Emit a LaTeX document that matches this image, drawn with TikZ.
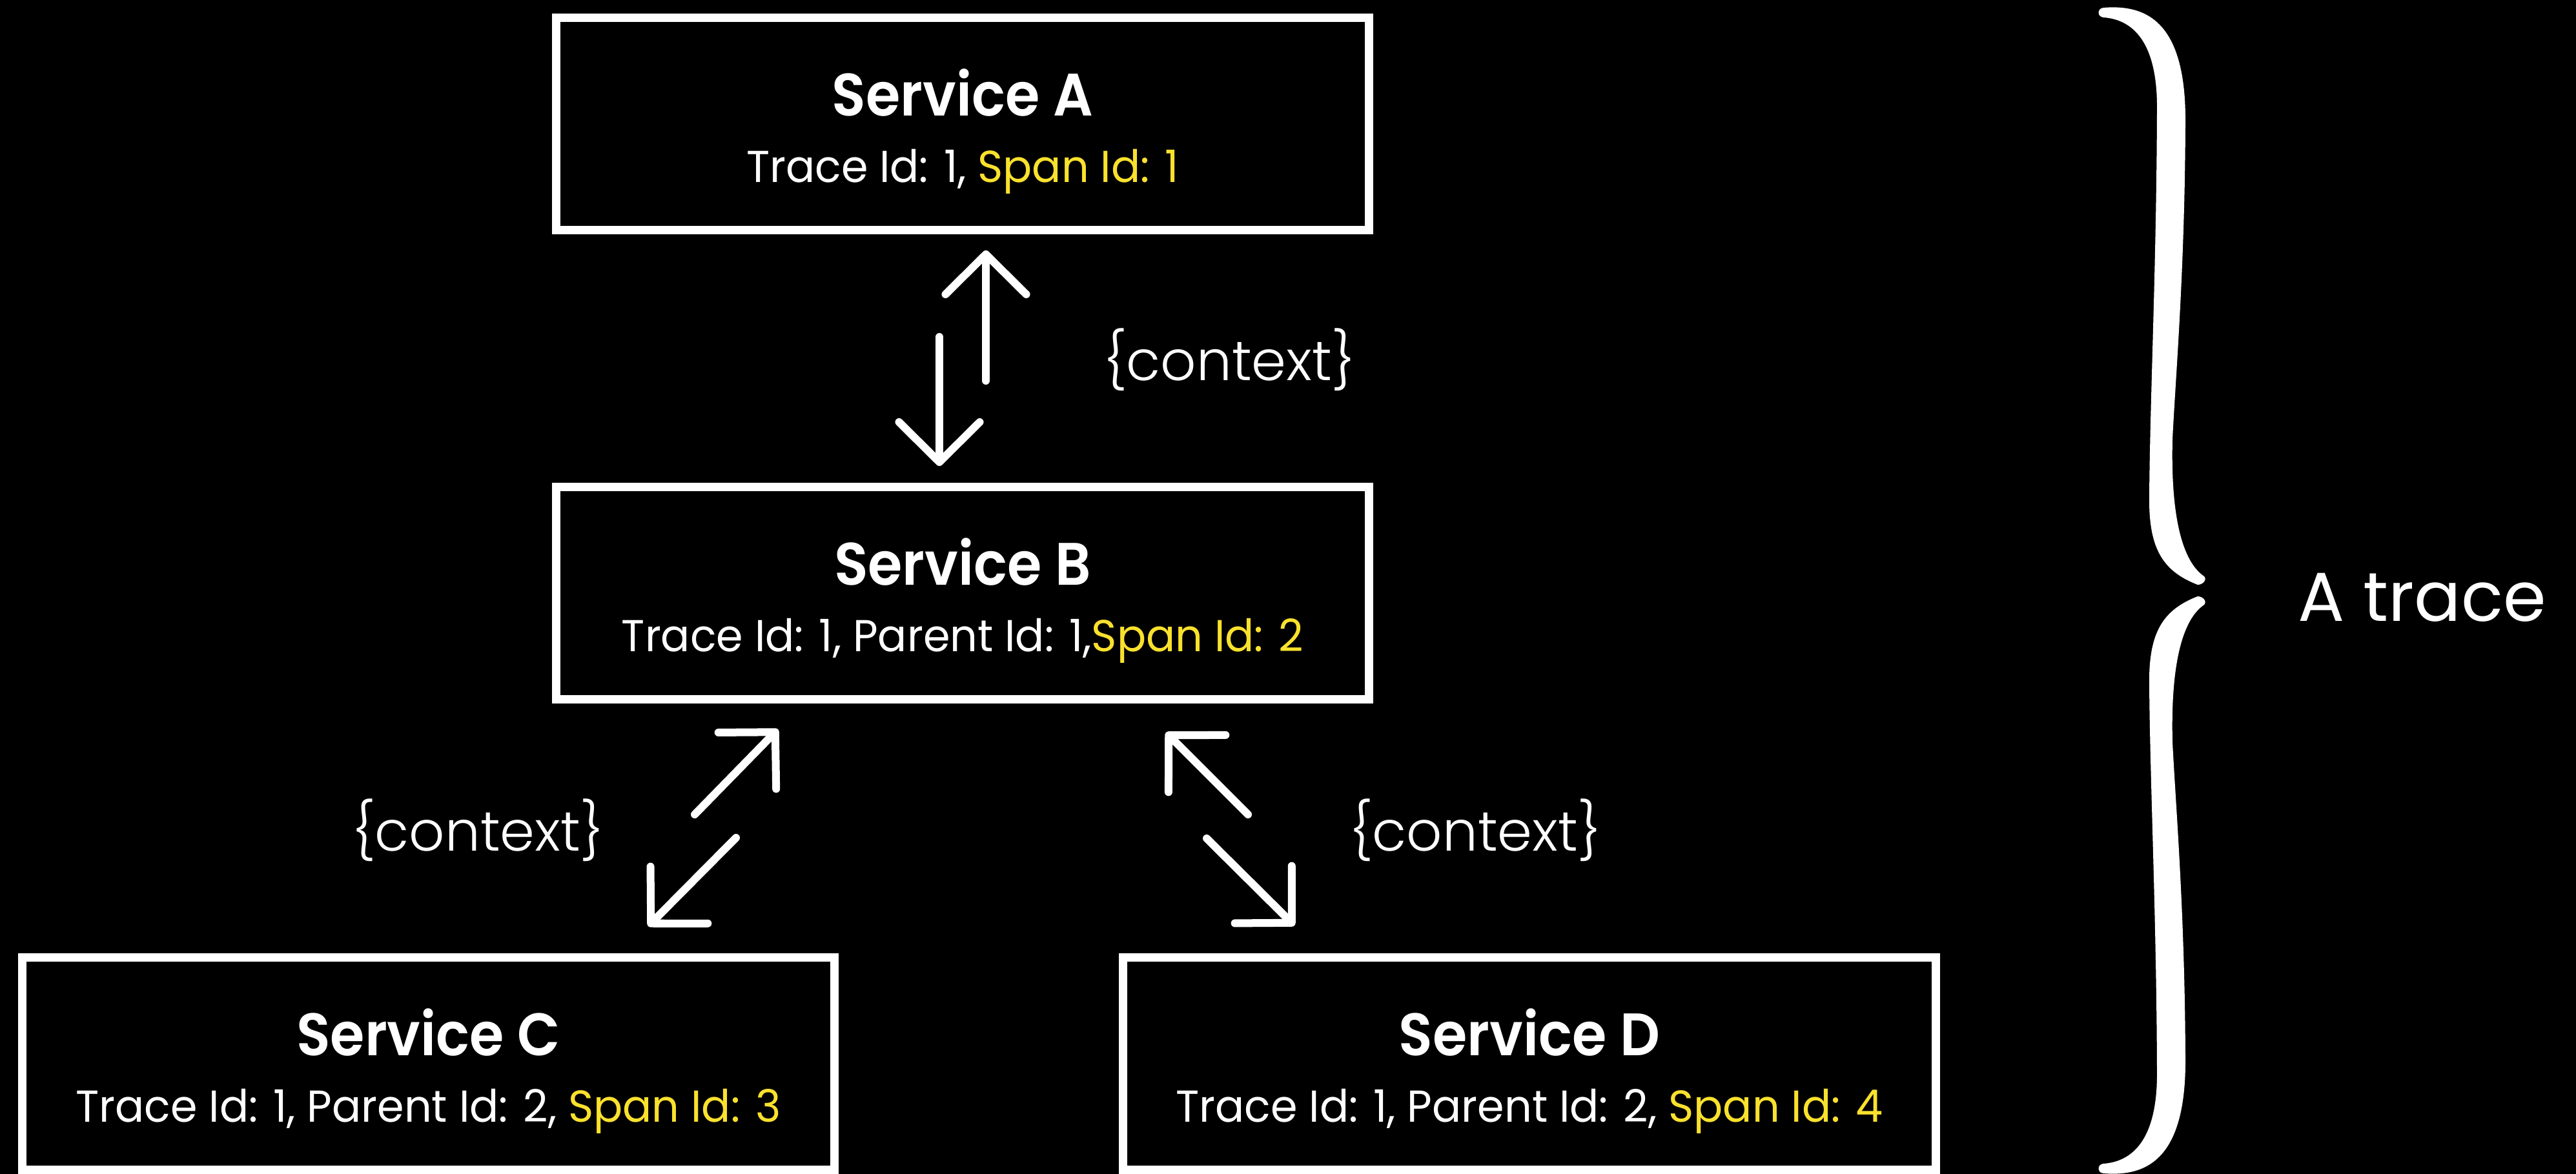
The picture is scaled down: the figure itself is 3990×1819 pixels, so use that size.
\documentclass[tikz,border=0pt]{standalone}
\usepackage{fontspec}
\setmainfont{Poppins}
\newfontfamily\titlefont{Poppins SemiBold}[FakeStretch=0.93]
\newfontfamily\subfont{Poppins}[FakeStretch=0.965]
\newfontfamily\ctxfont{Poppins Light}
\usetikzlibrary{arrows.meta,calc}
\definecolor{spanyellow}{RGB}{250,225,45}
\begin{document}
\begin{tikzpicture}[x=0.01cm, y=-0.01cm,
  box/.style={draw=white, line width=0.13cm, minimum width=12.58cm, minimum height=3.28cm, inner sep=0pt, outer sep=0pt},
  titletext/.style={text=white, inner sep=0pt, anchor=base, font=\titlefont\fontsize{26.4pt}{30pt}\selectfont},
  subtext/.style={text=white, inner sep=0pt, anchor=base, font=\subfont\fontsize{19.7pt}{24pt}\selectfont},
  ctx/.style={text=white, inner sep=0pt, anchor=base, font=\ctxfont\fontsize{24.6pt}{28pt}\selectfont},
  flow/.style={draw=white, line width=0.12cm, line cap=round, -{Straight Barb[round, length=0.62cm, width=1.25cm]}}
]
\fill[black] (0,0) rectangle (3990,1819);
\useasboundingbox (0,0) rectangle (3990,1819);

% boxes
\node[box] (A) at (1491,192) {};
\node[box] (B) at (1491,919) {};
\node[box] (C) at (663.5,1648) {};
\node[box] (D) at (2369,1648) {};

% texts
\node[titletext] (tA) at ($(A.north)+(0,152)$) {Service A};
\node[subtext] (sA) at ($(A.north)+(0,255)$) {Trace Id: 1, \textcolor{spanyellow}{Span Id: 1}};
\node[titletext] (tB) at ($(B.north)+(0,152)$) {Service B};
\node[subtext] (sB) at ($(B.north)+(0,255)$) {Trace Id: 1, Parent Id: 1,\textcolor{spanyellow}{Span Id: 2}};
\node[titletext] (tC) at ($(C.north)+(0,152)$) {Service C};
\node[subtext] (sC) at ($(C.north)+(0,255)$) {Trace Id: 1, Parent Id: 2, \textcolor{spanyellow}{Span Id: 3}};
\node[titletext] (tD) at ($(D.north)+(0,152)$) {Service D};
\node[subtext] (sD) at ($(D.north)+(0,255)$) {Trace Id: 1, Parent Id: 2, \textcolor{spanyellow}{Span Id: 4}};

% arrow end points
\coordinate (abU1) at (1527,590);
\coordinate (abU2) at (1527,388);
\coordinate (abD1) at (1455,522);
\coordinate (abD2) at (1455,722);
\coordinate (bcU1) at (1076,1262);
\coordinate (bcU2) at (1205,1130);
\coordinate (bcD1) at (1140,1298);
\coordinate (bcD2) at (1004,1435);
\coordinate (bdU1) at (1933,1262);
\coordinate (bdU2) at (1806,1135);
\coordinate (bdD1) at (1869,1299);
\coordinate (bdD2) at (2005,1434);

\draw[flow] (abU1) -- (abU2);
\draw[flow] (abD1) -- (abD2);
\draw[flow] (bcU1) -- (bcU2);
\draw[flow] (bcD1) -- (bcD2);
\draw[flow] (bdU1) -- (bdU2);
\draw[flow] (bdD1) -- (bdD2);

% labels
\node[ctx] (cAB) at (1904,590) {\{context\}};
\node[ctx] (cBC) at (740,1318) {\{context\}};
\node[ctx] (cBD) at (2285,1318) {\{context\}};

% brace
\def\bracehalf{(3258,12) .. controls (3330,6) and (3386,40) .. (3385,190)
 .. controls (3384,420) and (3370,580) .. (3365,680)
 .. controls (3362,800) and (3380,870) .. (3414,893)
 .. controls (3419,898) and (3412,906) .. (3404,906)
 .. controls (3350,885) and (3328,850) .. (3329,770)
 .. controls (3330,620) and (3340,420) .. (3341,170)
 .. controls (3342,60) and (3300,30) .. (3258,27)
 .. controls (3248,26) and (3248,13) .. (3258,12) -- cycle}
\fill[white] \bracehalf;
\begin{scope}[shift={(0,1830)}, yscale=-1]
\fill[white] \bracehalf;
\end{scope}

\node[text=white, inner sep=0pt, anchor=base, font=\fontsize{30.5pt}{36pt}\selectfont] (trace) at (3752,962) {A trace};
\end{tikzpicture}
\end{document}
